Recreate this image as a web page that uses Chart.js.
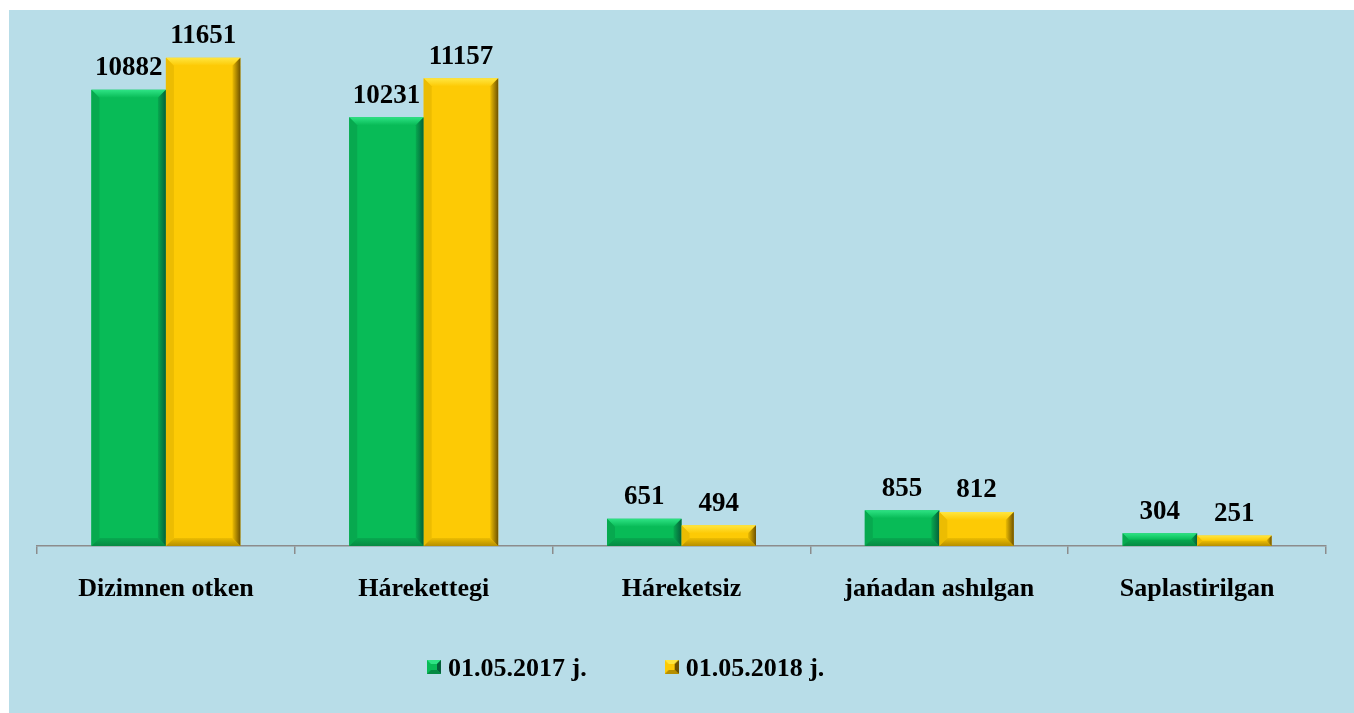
<!DOCTYPE html>
<html>
<head>
<meta charset="utf-8">
<script src="https://cdn.jsdelivr.net/npm/chart.js@4"></script>
<style>
  html, body { margin: 0; padding: 0; background: #ffffff; }
  #wrap { position: absolute; left: 0; top: 0; width: 1354px; height: 713px; }
</style>
</head>
<body>
<div id="wrap"><canvas id="myChart" width="1354" height="713"></canvas></div>
<script>
// ----- data ------ //
var categories = ["Dizimnen otken", "Hárekettegi", "Háreketsiz", "jańadan ashılgan", "Saplastirilgan"];
var values2017 = [10882, 10231, 651, 855, 304];
var values2018 = [11651, 11157, 494, 812, 251];
var seriesNames = ["01.05.2017 j.", "01.05.2018 j."];

var green = { base: "#08bb57", light: "#2ee384", dark: "#05603a", side: "#07a94f", bottom: "#068a43" };
var yellow = { base: "#fdca05", light: "#ffe640", dark: "#6e5200", side: "#ecbc02", bottom: "#b68f00" };
var fontName = "'Liberation Serif', 'Times New Roman', serif";

// small bevelled square for the legend
function legendSquare(c) {
  var cv = document.createElement("canvas");
  cv.width = 14; cv.height = 14;
  var g = cv.getContext("2d");
  g.fillStyle = c.base; g.fillRect(0, 0, 14, 14);
  g.fillStyle = c.light;
  g.beginPath(); g.moveTo(0, 0); g.lineTo(14, 0); g.lineTo(10, 4); g.lineTo(4, 4); g.fill();
  g.fillStyle = c.dark;
  g.beginPath(); g.moveTo(14, 0); g.lineTo(14, 14); g.lineTo(10, 10); g.lineTo(10, 4); g.fill();
  g.fillStyle = c.bottom;
  g.beginPath(); g.moveTo(0, 14); g.lineTo(14, 14); g.lineTo(10, 10); g.lineTo(4, 10); g.fill();
  return cv;
}

// ----- plugins ------ //
var panelBg = {
  id: "panelBg",
  beforeDraw(chart) {
    var ctx = chart.ctx;
    ctx.save();
    ctx.fillStyle = "#ffffff";
    ctx.fillRect(0, 0, chart.width, chart.height);
    ctx.fillStyle = "#b8dde8";
    ctx.fillRect(9, 10, chart.width - 9, chart.height - 10);
    ctx.restore();
  }
};

function poly(ctx, pts, fill) {
  ctx.beginPath();
  ctx.moveTo(pts[0][0], pts[0][1]);
  for (var i = 1; i < pts.length; i++) ctx.lineTo(pts[i][0], pts[i][1]);
  ctx.closePath();
  ctx.fillStyle = fill;
  ctx.fill();
}

var bevelBars = {
  id: "bevelBars",
  afterDatasetsDraw(chart) {
    var ctx = chart.ctx;
    var cols = [green, yellow];
    chart.data.datasets.forEach((ds, di) => {
      var meta = chart.getDatasetMeta(di);
      var c = cols[di];
      meta.data.forEach((bar) => {
        var p = bar.getProps(["x", "y", "base", "width"], true);
        var l = p.x - p.width / 2, r = p.x + p.width / 2, t = p.y, b = p.base;
        var h = b - t;
        var e = Math.min(8, h / 2, p.width / 2);
        ctx.save();
        var gt = ctx.createLinearGradient(0, t, 0, t + e);
        gt.addColorStop(0, c.light);
        gt.addColorStop(1, c.base);
        poly(ctx, [[l, t], [r, t], [r - e, t + e], [l + e, t + e]], gt);
        poly(ctx, [[l, t], [l, b], [l + e, b - e], [l + e, t + e]], c.side);
        var gb = ctx.createLinearGradient(0, b - e, 0, b);
        gb.addColorStop(0, c.side);
        gb.addColorStop(1, c.bottom);
        poly(ctx, [[l, b], [r, b], [r - e, b - e], [l + e, b - e]], gb);
        var gr = ctx.createLinearGradient(r - e, 0, r, 0);
        gr.addColorStop(0, c.side);
        gr.addColorStop(1, c.dark);
        poly(ctx, [[r, t], [r, b], [r - e, b - e], [r - e, t + e]], gr);
        ctx.restore();
      });
    });
  }
};

var valueLabels = {
  id: "valueLabels",
  afterDatasetsDraw(chart) {
    var ctx = chart.ctx;
    ctx.save();
    ctx.font = "bold 27px " + fontName;
    ctx.fillStyle = "#000000";
    ctx.textAlign = "center";
    ctx.textBaseline = "bottom";
    chart.data.datasets.forEach((ds, di) => {
      var meta = chart.getDatasetMeta(di);
      meta.data.forEach((bar, i) => {
        ctx.fillText(ds.data[i], bar.x, bar.y - 8);
      });
    });
    ctx.restore();
  }
};

// legend row under the axis
var legendRow = {
  id: "legendRow",
  afterDraw(chart) {
    var ctx = chart.ctx;
    var squares = [legendSquare(green), legendSquare(yellow)];
    var x = 427, y = 668;
    ctx.save();
    ctx.font = "bold 26px " + fontName;
    ctx.fillStyle = "#000000";
    ctx.textAlign = "left";
    ctx.textBaseline = "middle";
    chart.data.datasets.forEach((ds, di) => {
      ctx.drawImage(squares[di], x, y - 8);
      ctx.fillText(ds.label, x + 21, y + 1);
      x += 21 + ctx.measureText(ds.label).width + 78;
    });
    ctx.restore();
  }
};

// ----- chart ------ //
function displayBars() {
  const ctx = document.getElementById("myChart");
  new Chart(ctx, {
    type: "bar",
    data: {
      labels: categories,
      datasets: [
        {
          label: seriesNames[0],
          data: values2017,
          backgroundColor: green.base,
          borderWidth: 0,
        },
        {
          label: seriesNames[1],
          data: values2018,
          backgroundColor: yellow.base,
          borderWidth: 0,
        },
      ],
    },
    plugins: [panelBg, bevelBars, valueLabels, legendRow],
    options: {
      responsive: false,
      animation: false,
      devicePixelRatio: 1,
      layout: { padding: { top: 43, left: 37, right: 28, bottom: 87 } },
      datasets: { bar: { categoryPercentage: 0.578, barPercentage: 1 } },
      scales: {
        x: {
          grid: {
            display: true,
            drawOnChartArea: false,
            drawTicks: true,
            tickLength: 8,
            color: "#8c8c8c",
            lineWidth: 1.5,
          },
          border: { display: true, color: "#8c8c8c", width: 1.5 },
          ticks: {
            color: "#000000",
            padding: 20,
            maxRotation: 0,
            font: { family: fontName, size: 26, weight: "bold" },
          },
          afterFit: (scale) => {
            scale.height = 80;
          },
        },
        y: {
          display: false,
          min: 0,
          max: 12000,
        },
      },
      plugins: {
        legend: { display: false },
        tooltip: { enabled: false },
      },
    },
  });
}

displayBars();
</script>
</body>
</html>
